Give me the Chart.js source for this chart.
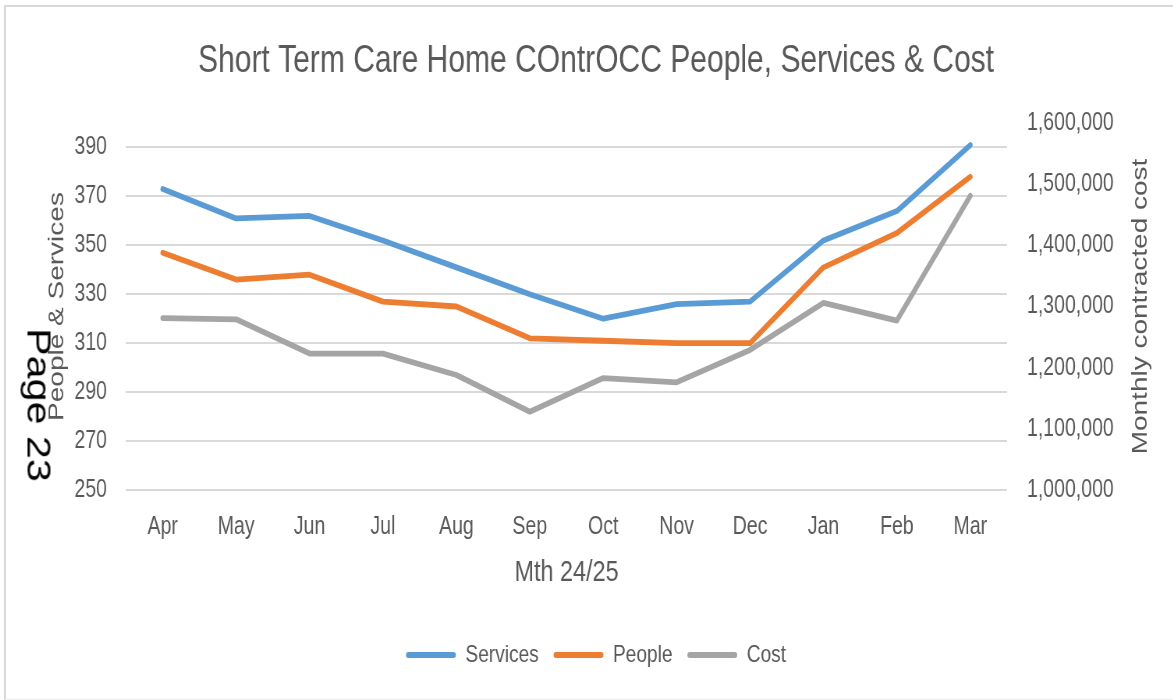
<!DOCTYPE html>
<html>
<head>
<meta charset="utf-8">
<script src="https://cdn.jsdelivr.net/npm/chart.js@4.4.1/dist/chart.umd.min.js"></script>
<style>
  html, body { margin: 0; padding: 0; background: #ffffff; }
  #wrap { position: relative; width: 1173px; height: 700px; overflow: hidden; background: #ffffff; }
  #frame { position: absolute; left: 4px; top: 5px; width: 1200px; height: 692px;
           border-left: 2px solid #d9d9d9; border-top: 2px solid #d9d9d9; border-bottom: 1px solid #eeeeee; }
  #c { position: absolute; left: 4px; top: 0; transform: scaleX(0.78); transform-origin: 0 0; }
  #page { position: absolute; left: 39px; top: 405px; font-family: 'Liberation Sans', Arial, sans-serif;
          font-size: 33px; line-height: 1; color: #000; white-space: nowrap;
          transform: translate(-50%, -50%) rotate(90deg) scaleX(1.25); }
</style>
</head>
<body>
<div id="wrap">
  <div id="frame"></div>
  <canvas id="c" width="1518" height="700"></canvas>
  <div id="page">Page 23</div>
</div>
<script>
const months = ['Apr', 'May', 'Jun', 'Jul', 'Aug', 'Sep', 'Oct', 'Nov', 'Dec', 'Jan', 'Feb', 'Mar'];
const services = [373, 361, 362, 352, 341, 330, 320, 326, 327, 352, 364, 391];
const people = [347, 336, 338, 327, 325, 312, 311, 310, 310, 341, 355, 378];
const cost = [1281000, 1279000, 1223000, 1223000, 1188000, 1128000, 1183000, 1176000, 1229000, 1306000, 1277000, 1481000];
const leftTicks = [250, 270, 290, 310, 330, 350, 370, 390];
const rightTicks = [1000000, 1100000, 1200000, 1300000, 1400000, 1500000, 1600000];

const titleText = 'Short Term Care Home COntrOCC People, Services & Cost';
const xTitle = 'Mth 24/25';
const leftTitle = 'People & Services';
const rightTitle = 'Monthly contracted cost';

const FONT = "'Liberation Sans', Arial, sans-serif";
const TXT = '#595959';

const rightTitlePlugin = {
  id: 'rightTitle',
  afterDraw(chart) {
    const ctx = chart.ctx;
    const area = chart.chartArea;
    ctx.save();
    ctx.translate(1457.5, (area.top + area.bottom) / 2);
    ctx.rotate(-Math.PI / 2);
    ctx.font = '28px ' + FONT;
    ctx.fillStyle = TXT;
    ctx.textAlign = 'center';
    ctx.textBaseline = 'middle';
    ctx.fillText(rightTitle, 0, 0);
    ctx.restore();
  }
};

const lineStyle = { borderWidth: 5.8, pointRadius: 0, pointHoverRadius: 0, tension: 0,
                    borderCapStyle: 'round', borderJoinStyle: 'round', fill: false };

new Chart(document.getElementById('c'), {
  type: 'line',
  data: {
    labels: months,
    datasets: [
      Object.assign({ label: 'Services', data: services, borderColor: '#5B9BD5', backgroundColor: '#5B9BD5', yAxisID: 'y', order: 3 }, lineStyle),
      Object.assign({ label: 'People', data: people, borderColor: '#ED7D31', backgroundColor: '#ED7D31', yAxisID: 'y', order: 2 }, lineStyle),
      Object.assign({ label: 'Cost', data: cost, borderColor: '#A5A5A5', backgroundColor: '#A5A5A5', yAxisID: 'y1', order: 1 }, lineStyle)
    ]
  },
  options: {
    responsive: false,
    animation: false,
    devicePixelRatio: 1,
    layout: { padding: { left: 0, right: 0, top: 0, bottom: 22.75 } },
    plugins: {
      title: {
        display: true, text: titleText, color: TXT,
        font: { family: FONT, size: 38.5, weight: 'normal' },
        padding: { top: 38, bottom: 38.8 }
      },
      legend: {
        display: true, position: 'bottom',
        labels: {
          font: { family: FONT, size: 24.5 }, color: TXT,
          boxWidth: 64, boxHeight: 6, padding: 19,
          useBorderRadius: true, borderRadius: 3,
          sort: (a, b) => a.datasetIndex - b.datasetIndex,
          generateLabels(chart) {
            return chart.data.datasets.map((ds, i) => ({
              text: ds.label, fillStyle: ds.borderColor, strokeStyle: ds.borderColor,
              lineWidth: 0, hidden: false, datasetIndex: i, borderRadius: 3, fontColor: TXT
            }));
          }
        }
      },
      tooltip: { enabled: false }
    },
    scales: {
      x: {
        type: 'category', offset: true,
        grid: { display: false, drawTicks: false },
        border: { display: false },
        ticks: { color: TXT, font: { family: FONT, size: 25 }, padding: 22, maxRotation: 0, autoSkip: false },
        title: { display: true, text: xTitle, color: TXT, font: { family: FONT, size: 30 }, padding: { top: 0, bottom: 32.75 } },
        afterFit(scale) { scale.height = 133.75; }
      },
      y: {
        position: 'left', min: 250, max: 400,
        grid: { color: '#d9d9d9', lineWidth: 2, drawTicks: false },
        border: { display: false },
        ticks: { color: TXT, font: { family: FONT, size: 25 }, padding: 24.4 },
        afterBuildTicks(scale) { scale.ticks = leftTicks.map(v => ({ value: v })); },
        title: { display: true, text: leftTitle, color: TXT, font: { family: FONT, size: 28 }, padding: { top: 51.7, bottom: 0 } },
        afterFit(scale) { scale.width = 156.4; }
      },
      y1: {
        position: 'right', min: 1000000, max: 1600000,
        grid: { display: false, drawTicks: false },
        border: { display: false },
        ticks: { color: TXT, font: { family: FONT, size: 25 }, padding: 25.6,
                 callback: v => Number(v).toLocaleString('en-US') },
        afterBuildTicks(scale) { scale.ticks = rightTicks.map(v => ({ value: v })); },
        afterFit(scale) { scale.width = 232.1; }
      }
    }
  },
  plugins: [rightTitlePlugin]
});
</script>
</body>
</html>
